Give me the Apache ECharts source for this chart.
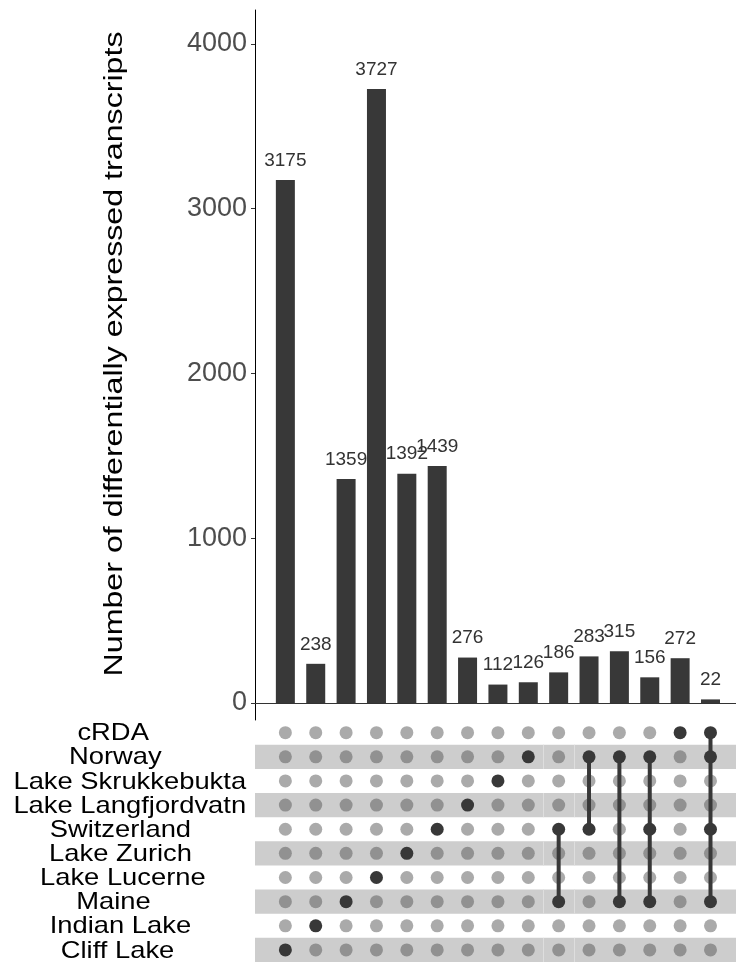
<!DOCTYPE html>
<html><head><meta charset="utf-8">
<script src="https://cdn.jsdelivr.net/npm/echarts@6/dist/echarts.min.js"></script>
<style>html,body{margin:0;padding:0;background:#fff}#c{width:736px;height:962px}</style>
</head><body><div id="c"></div>
<script>
// ---- data ----
const sets = ['Cliff Lake','Indian Lake','Maine','Lake Lucerne','Lake Zurich','Switzerland','Lake Langfjordvatn','Lake Skrukkebukta','Norway','cRDA']; // bottom -> top
const counts = [3175,238,1359,3727,1392,1439,276,112,126,186,283,315,156,272,22];
const members = [
  ['Cliff Lake'],['Indian Lake'],['Maine'],['Lake Lucerne'],['Lake Zurich'],['Switzerland'],
  ['Lake Langfjordvatn'],['Lake Skrukkebukta'],['Norway'],
  ['Switzerland','Maine'],['Norway','Switzerland'],['Norway','Maine'],
  ['Norway','Switzerland','Maine'],['cRDA'],['cRDA','Norway','Switzerland','Maine']
];
const yTicks = [0,1000,2000,3000,4000];
const yTitle = 'Number of differentially expressed transcripts';

// ---- layout constants ----
const X_MIN = 0, X_MAX = 15.84;
const Y_MIN = -103, Y_MAX = 4206;
const DARK = '#383838';
const FONT = '"Liberation Sans", Arial, sans-serif';

const mctx = document.createElement('canvas').getContext('2d');
function tw(t, font){ mctx.font = font; return mctx.measureText(t).width; }

const barData = counts.map((v,i)=>[i+1, v]);
const emptyDots = [], fullDots = [], links = [];
members.forEach((m,i)=>{
  const rows = m.map(s=>sets.indexOf(s));
  sets.forEach((s,r)=>{ if(rows.indexOf(r)<0) emptyDots.push([i+1,r]); });
  rows.forEach(r=>fullDots.push([i+1,r]));
  if(rows.length>1) links.push([i+1, Math.min(...rows), Math.max(...rows)]);
});
const stripeRows = sets.map((s,r)=>r).filter(r=>r%2===0).map(r=>[r]);
const labelRows = sets.map((s,r)=>[r]);

const titleFont = '25.6px ' + FONT;
const titleScale = 645 / tw(yTitle, titleFont);
const rowFont = '24px ' + FONT;
const rowScale = 1.14;

const chart = echarts.init(document.getElementById('c'), null, {renderer:'canvas'});
chart.setOption({
  animation:false,
  textStyle:{fontFamily:FONT},
  grid:[
    {left:255, right:0, top:10, height:710},
    {left:255, right:0, top:720.6, height:241.4}
  ],
  xAxis:[
    {gridIndex:0, type:'value', min:X_MIN, max:X_MAX,
     axisLine:{show:true, onZero:true, lineStyle:{color:'#333', width:1}},
     axisTick:{show:false}, axisLabel:{show:false}, splitLine:{show:false}},
    {gridIndex:1, type:'value', min:X_MIN, max:X_MAX, show:false}
  ],
  yAxis:[
    {gridIndex:0, type:'value', min:Y_MIN, max:Y_MAX,
     axisLine:{show:true, onZero:false, lineStyle:{color:'#000', width:1}},
     axisTick:{show:true, length:4, lineStyle:{color:'#333'}, customValues:yTicks},
     axisLabel:{show:true, customValues:yTicks, formatter:function(v){return String(v);},
       fontSize:27, color:'#4d4d4d', margin:8, padding:[0,0,9,0]},
     splitLine:{show:false}},
    {gridIndex:1, type:'value', min:-0.5, max:9.5, show:false}
  ],
  graphic:[{
    type:'text', x:115, y:354, rotation:Math.PI/2, scaleX:titleScale,
    style:{text:yTitle, font:titleFont, fill:'#000', textAlign:'center', textVerticalAlign:'middle'}
  }],
  series:[
    {type:'bar', xAxisIndex:0, yAxisIndex:0, data:barData, barWidth:19,
     itemStyle:{color:DARK},
     label:{show:true, position:'top', distance:10, fontSize:19, color:'#333'}},
    {type:'custom', xAxisIndex:1, yAxisIndex:1, data:stripeRows, z:1,
     renderItem:function(params, api){
       const r = api.value(0);
       const p0 = api.coord([X_MIN, r+0.5]);
       const p1 = api.coord([X_MAX, r-0.5]);
       const children = [{type:'rect', shape:{x:p0[0], y:p0[1], width:p1[0]-p0[0], height:p1[1]-p0[1]}, style:{fill:'#cdcdcd'}}];
       [9.5,10.5].forEach(xv=>{
         const q = api.coord([xv, r]);
         children.push({type:'line', shape:{x1:Math.round(q[0])+0.5, y1:p0[1], x2:Math.round(q[0])+0.5, y2:p1[1]}, style:{stroke:'#dedede', lineWidth:1}});
       });
       return {type:'group', children:children};
     }},
    {type:'scatter', xAxisIndex:1, yAxisIndex:1, data:emptyDots, symbolSize:13, z:2,
     itemStyle:{color:'#555555', opacity:0.5}},
    {type:'custom', xAxisIndex:1, yAxisIndex:1, data:links, z:3,
     renderItem:function(params, api){
       const a = api.coord([api.value(0), api.value(1)]);
       const b = api.coord([api.value(0), api.value(2)]);
       return {type:'line', shape:{x1:a[0], y1:a[1], x2:b[0], y2:b[1]}, style:{stroke:DARK, lineWidth:4}};
     }},
    {type:'scatter', xAxisIndex:1, yAxisIndex:1, data:fullDots, symbolSize:13, z:4,
     itemStyle:{color:DARK, opacity:1}},
    {type:'custom', xAxisIndex:1, yAxisIndex:1, data:labelRows, z:5, clip:false,
     renderItem:function(params, api){
       const r = api.value(0);
       const name = sets[r];
       const y = api.coord([X_MIN, r])[1] + 1;
       const w = tw(name, rowFont) * rowScale;
       const left = 105.8 - 0.397 * w;
       return {type:'text', x:left, y:y, scaleX:rowScale,
         style:{text:name, font:rowFont, fill:'#000', textAlign:'left', textVerticalAlign:'middle'}};
     }}
  ]
});
</script>
</body></html>
